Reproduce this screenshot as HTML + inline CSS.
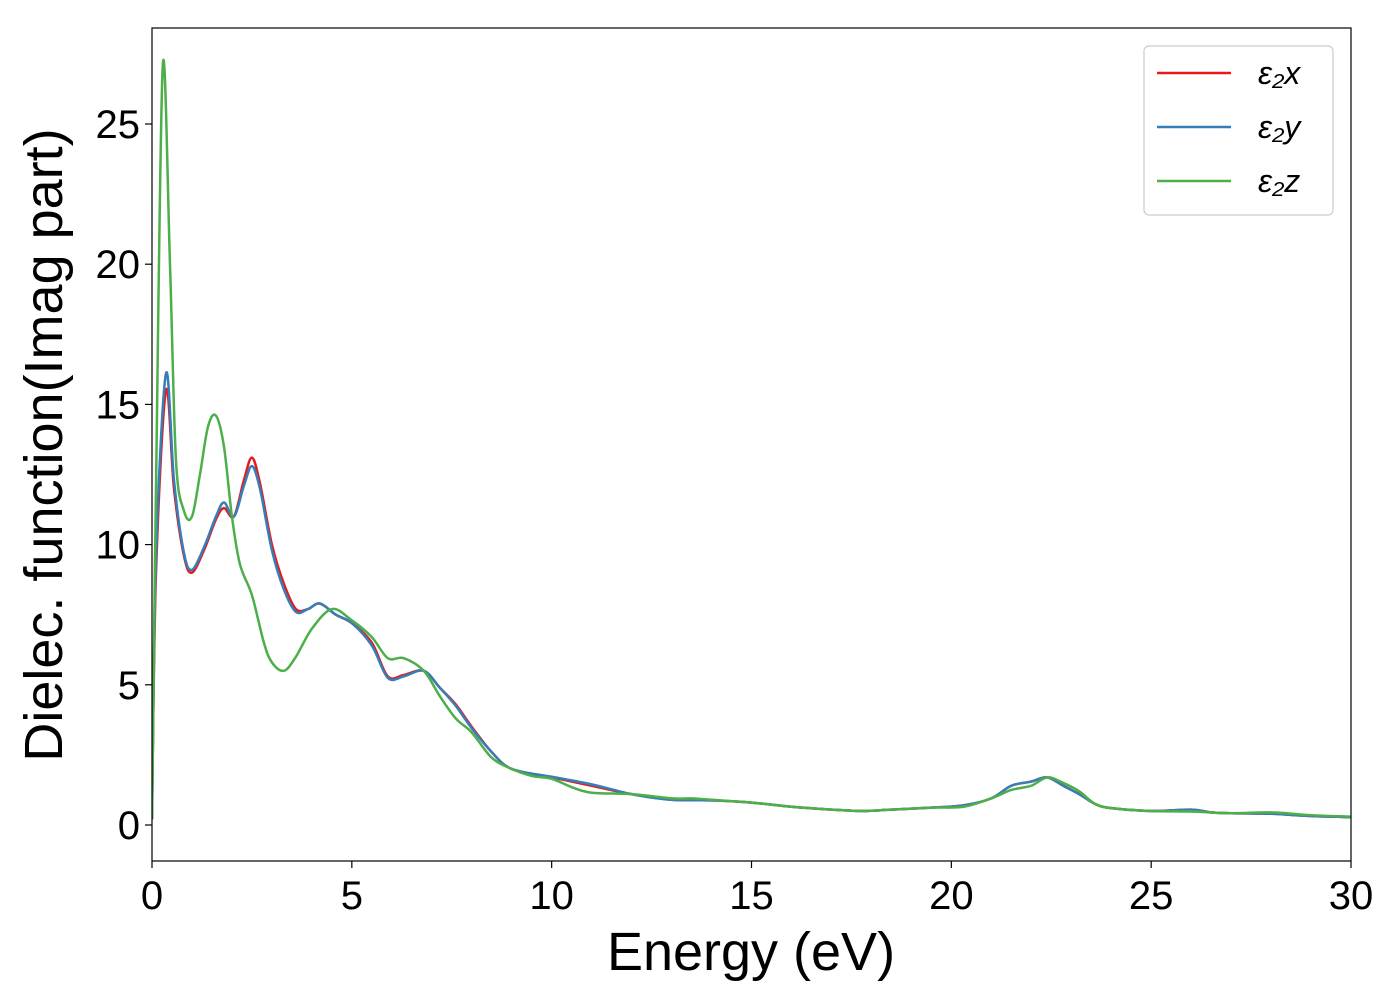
<!DOCTYPE html>
<html><head><meta charset="utf-8"><style>
body{margin:0;background:#fff;font-family:"Liberation Sans","DejaVu Sans",sans-serif}
</style></head><body>
<svg id="chart" width="1400" height="1000" xmlns="http://www.w3.org/2000/svg">
<rect width="1400" height="1000" fill="#fff"/>
<g id="plot"></g>
</svg>
<script>
const xTicks=[0,5,10,15,20,25,30];
const yTicks=[0,5,10,15,20,25];
const seriesNames=["ε₂x","ε₂y","ε₂z"];
const seriesColors=["#e41a1c","#377eb8","#4daf4a"];
const redX=[0,0.1,0.35,0.55,0.8,1.0,1.3,1.6,1.8,2.05,2.3,2.5,2.7,3.0,3.3,3.6,3.9,4.2,4.6,5.0,5.5,5.9,6.3,6.8,7.2,7.6,8.0,8.5,9,10,11,12,13,14,15,16,17,17.8,18.5,19.5,20.3,21,21.5,22,22.4,22.8,23.2,23.6,24,25,26,26.5,27,28,29,30];
const redY=[0.2,9,15.5,12,9.6,9.0,9.8,10.9,11.3,11.0,12.3,13.1,12.2,10.0,8.6,7.7,7.7,7.9,7.5,7.2,6.5,5.3,5.35,5.5,4.9,4.3,3.5,2.6,2.0,1.7,1.4,1.1,0.9,0.88,0.8,0.65,0.55,0.5,0.55,0.62,0.7,0.95,1.4,1.55,1.7,1.4,1.1,0.75,0.6,0.5,0.55,0.45,0.42,0.4,0.32,0.28];
const blueX=redX;
const blueY=[0.2,9.5,16.1,12.3,9.7,9.1,9.9,11.0,11.5,11.0,12.1,12.8,12.0,9.8,8.4,7.6,7.7,7.9,7.5,7.2,6.4,5.25,5.3,5.5,4.9,4.25,3.45,2.6,2.0,1.72,1.45,1.1,0.9,0.88,0.8,0.65,0.55,0.5,0.55,0.62,0.7,0.95,1.4,1.55,1.7,1.4,1.1,0.75,0.6,0.5,0.55,0.45,0.42,0.4,0.32,0.28];
const greenX=[0,0.1,0.27,0.45,0.6,0.8,1.0,1.2,1.4,1.6,1.8,2.0,2.2,2.5,2.8,3.0,3.3,3.6,4.0,4.5,5.0,5.5,5.9,6.3,6.8,7.2,7.6,8.0,8.5,9,9.5,10,10.5,11,12,13,13.5,14,15,16,17,17.8,18.5,19.5,20.3,21,21.5,22,22.4,22.8,23.2,23.6,24,25,26,27,28,29,30];
const greenY=[0.3,12,27.1,20,13,11.2,11.0,12.5,14.2,14.6,13.5,11,9.3,8.2,6.5,5.8,5.5,6.0,7.0,7.7,7.3,6.7,5.95,5.95,5.5,4.6,3.8,3.3,2.4,2.0,1.75,1.65,1.35,1.15,1.1,0.95,0.95,0.9,0.8,0.65,0.55,0.5,0.55,0.62,0.65,0.95,1.25,1.4,1.7,1.5,1.2,0.75,0.6,0.5,0.48,0.42,0.45,0.35,0.3];

const L=152,R=1351,T=28,B=861;
const sx=v=>L+(v-0)/30*(R-L);
const sy=v=>825-v*(825-124)/25;
const NS="http://www.w3.org/2000/svg";
const g=document.getElementById('plot');
function mk(tag,attrs){const e=document.createElementNS(NS,tag);for(const k in attrs)e.setAttribute(k,attrs[k]);g.appendChild(e);return e;}
function pathFor(xs,ys){
  const p=xs.map((x,i)=>[sx(x),sy(ys[i])]);
  let d=`M${p[0][0]},${p[0][1]}`;
  for(let i=0;i<p.length-1;i++){
    const p0=p[i-1]||p[i],p1=p[i],p2=p[i+1],p3=p[i+2]||p2;
    const c1=[p1[0]+(p2[0]-p0[0])/6,p1[1]+(p2[1]-p0[1])/6];
    const c2=[p2[0]-(p3[0]-p1[0])/6,p2[1]-(p3[1]-p1[1])/6];
    d+=`C${c1[0]},${c1[1]} ${c2[0]},${c2[1]} ${p2[0]},${p2[1]}`;
  }
  return d;
}
const cp=mk('clipPath',{id:'clip'});
const cr=document.createElementNS(NS,'rect');cr.setAttribute('x',L);cr.setAttribute('y',T);cr.setAttribute('width',R-L);cr.setAttribute('height',B-T);cp.appendChild(cr);
const data=[[redX,redY],[blueX,blueY],[greenX,greenY]];
data.forEach((s,i)=>{
  const e=mk('path',{d:pathFor(s[0],s[1]),fill:'none',stroke:seriesColors[i],'stroke-width':2.5,'clip-path':'url(#clip)'});
  
  
});
const frame=mk('rect',{x:L,y:T,width:R-L,height:B-T,fill:'none',stroke:'#000','stroke-width':1.2});


xTicks.forEach(v=>{
  mk('line',{x1:sx(v),x2:sx(v),y1:B,y2:B+7,stroke:'#000','stroke-width':1.2});
  const t=mk('text',{x:sx(v),y:B+48,'text-anchor':'middle','font-size':40,fill:'#000'});t.textContent=v;
  
  
});
yTicks.forEach(v=>{
  mk('line',{x1:L-7,x2:L,y1:sy(v),y2:sy(v),stroke:'#000','stroke-width':1.2});
  const t=mk('text',{x:L-12,y:sy(v)+14,'text-anchor':'end','font-size':40,fill:'#000'});t.textContent=v;
  
  
});
const xl=mk('text',{x:751,y:970,'text-anchor':'middle','font-size':54,fill:'#000'});xl.textContent='Energy (eV)';


const yl=mk('text',{x:0,y:0,'text-anchor':'middle','font-size':54,fill:'#000',transform:'translate(62,445) rotate(-90)'});yl.textContent='Dielec. function(Imag part)';


const lg=mk('rect',{x:1144,y:46,width:189,height:169,rx:5,fill:'#fff',stroke:'#ccc','stroke-width':1.2});


seriesNames.forEach((n,i)=>{
  const y=73+i*54;
  mk('line',{x1:1157,x2:1231,y1:y,y2:y,stroke:seriesColors[i],'stroke-width':2.5});
  const t=mk('text',{x:1258,y:y+11,'font-size':32,'font-style':'italic',fill:'#000'});t.textContent=n;
  
  
});
</script>
</body></html>
